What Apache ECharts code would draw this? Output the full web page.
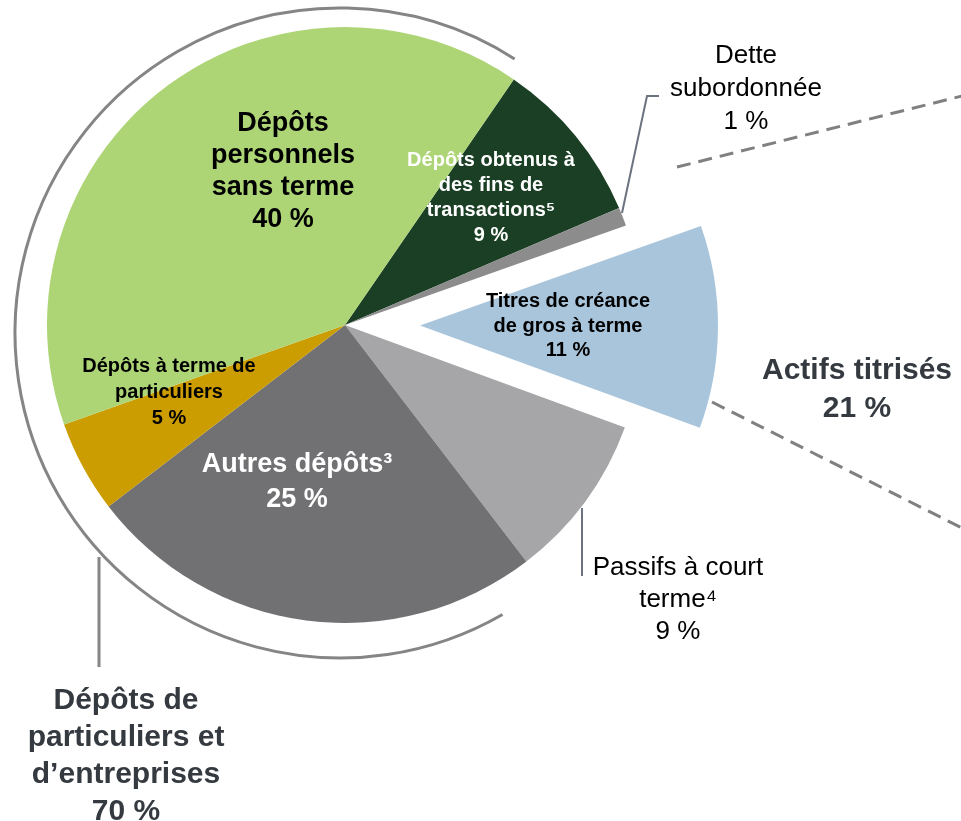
<!DOCTYPE html>
<html>
<head>
<meta charset="utf-8">
<script src="https://cdn.jsdelivr.net/npm/echarts@6/dist/echarts.min.js"></script>
<style>
  html, body { margin: 0; padding: 0; background: #fff; }
  #chart { width: 961px; height: 821px; }
</style>
</head>
<body>
<div id="chart"></div>
<script>
const sliceNames = [
    'Dépôts obtenus à\ndes fins de\ntransactions⁵',
    'Dette\nsubordonnée',
    'Titres de créance\nde gros à terme',
    'Passifs à court\nterme⁴',
    'Autres dépôts³',
    'Dépôts à terme de\nparticuliers',
    'Dépôts\npersonnels\nsans terme'
];
const sliceValues = [9, 1, 11, 9, 25, 5, 40];
const groupNames = ['Dépôts de\nparticuliers et\nd’entreprises', 'Actifs titrisés'];
const groupValues = [70, 21];

const FONT = '"Liberation Sans", Arial, sans-serif';
const colors = ['#1a3f24', '#8c8c8c', '#a9c5dc', '#a6a6a8', '#717073', '#cc9d00', '#add576'];

// label styling per slice (index matches sliceValues)
const labelStyles = [
    { color: '#fff', fontWeight: 'bold', fontSize: 20, lineHeight: 25, position: 'inside' },
    { color: '#000', fontWeight: 'normal', fontSize: 26, lineHeight: 33, position: 'outside' },
    { color: '#000', fontWeight: 'bold', fontSize: 20, lineHeight: 24.5, position: 'inside', padding: [10, 8, 0, 0] },
    { color: '#000', fontWeight: 'normal', fontSize: 26, lineHeight: 32, position: 'outside' },
    { color: '#fff', fontWeight: 'bold', fontSize: 27, lineHeight: 35, position: 'inside' },
    { color: '#000', fontWeight: 'bold', fontSize: 20, lineHeight: 26, position: 'inside' },
    { color: '#000', fontWeight: 'bold', fontSize: 27, lineHeight: 32, position: 'inside' }
];
// the selected slice (index 2) keeps its own inside position
const labelSpots = [[491, 198], [746, 89], null, [678, 600], [297, 482], [169, 392], [283, 172]];
const leaderLines = {
    1: [[622, 213], [647, 96], [659, 96]],
    3: [[582, 508], [582, 540], [582, 576]]
};

const chart = echarts.init(document.getElementById('chart'), null, { renderer: 'canvas' });

const pieData = sliceValues.map((v, i) => ({
    name: sliceNames[i],
    value: v,
    selected: i === 2,
    itemStyle: { color: colors[i] },
    label: Object.assign({ show: true, fontFamily: FONT }, labelStyles[i]),
    labelLine: { show: !!leaderLines[i], lineStyle: { color: '#6b7380', width: 2 } }
}));

const option = {
    animation: false,
    backgroundColor: '#fff',
    series: [{
        type: 'pie',
        center: [345, 325],
        radius: 298,
        startAngle: 55.5,
        clockwise: true,
        selectedMode: 'single',
        selectedOffset: 75,
        avoidLabelOverlap: false,
        itemStyle: { borderWidth: 0 },
        select: { itemStyle: { borderWidth: 0 } },
        label: {
            formatter: '{b}\n{c} %',
            align: 'center'
        },
        labelLayout: (params) => {
            const p = labelSpots[params.dataIndex];
            if (!p) return {};
            const out = { x: p[0], y: p[1], align: 'center', verticalAlign: 'middle' };
            if (leaderLines[params.dataIndex]) out.labelLinePoints = leaderLines[params.dataIndex];
            return out;
        },
        data: pieData
    }],
    graphic: [
        // bracket arc around the deposit slices
        {
            type: 'arc',
            shape: { cx: 340, cy: 333, r: 325, startAngle: 60 * Math.PI / 180, endAngle: 302.5 * Math.PI / 180, clockwise: true },
            style: { stroke: '#858585', lineWidth: 3, fill: null }
        },
        {
            type: 'line',
            shape: { x1: 99, y1: 557, x2: 99, y2: 667 },
            style: { stroke: '#858585', lineWidth: 3 }
        },
        {
            type: 'text',
            style: {
                text: groupNames[0] + '\n' + groupValues[0] + ' %',
                x: 126, y: 756,
                align: 'center', verticalAlign: 'middle',
                font: 'bold 30px ' + FONT, lineHeight: 37, fill: '#343a40'
            }
        },
        // dashed lines toward the securitized group
        {
            type: 'line',
            shape: { x1: 677, y1: 167, x2: 970, y2: 94 },
            style: { stroke: '#808080', lineWidth: 3, lineDash: [14, 8] }
        },
        {
            type: 'line',
            shape: { x1: 712, y1: 402, x2: 970, y2: 532 },
            style: { stroke: '#808080', lineWidth: 3, lineDash: [14, 8] }
        },
        {
            type: 'text',
            style: {
                text: groupNames[1] + '\n' + groupValues[1] + ' %',
                x: 857, y: 390,
                align: 'center', verticalAlign: 'middle',
                font: 'bold 30px ' + FONT, lineHeight: 38, fill: '#343a40'
            }
        }
    ]
};

chart.setOption(option);
</script>
</body>
</html>
